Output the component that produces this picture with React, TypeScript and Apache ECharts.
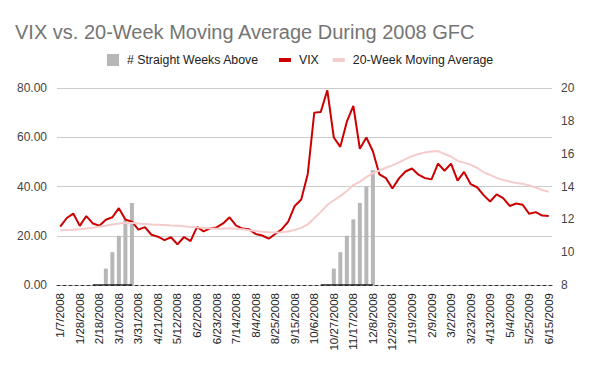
import React, { useEffect, useRef } from "react";
import * as echarts from "echarts";

const dates: string[] = [
  "1/7/2008", "1/14/2008", "1/21/2008", "1/28/2008", "2/4/2008", "2/11/2008", "2/18/2008", "2/25/2008",
  "3/3/2008", "3/10/2008", "3/17/2008", "3/24/2008", "3/31/2008", "4/7/2008", "4/14/2008", "4/21/2008",
  "4/28/2008", "5/5/2008", "5/12/2008", "5/19/2008", "5/26/2008", "6/2/2008", "6/9/2008", "6/16/2008",
  "6/23/2008", "6/30/2008", "7/7/2008", "7/14/2008", "7/21/2008", "7/28/2008", "8/4/2008", "8/11/2008",
  "8/18/2008", "8/25/2008", "9/1/2008", "9/8/2008", "9/15/2008", "9/22/2008", "9/29/2008", "10/6/2008",
  "10/13/2008", "10/20/2008", "10/27/2008", "11/3/2008", "11/10/2008", "11/17/2008", "11/24/2008", "12/1/2008",
  "12/8/2008", "12/15/2008", "12/22/2008", "12/29/2008", "1/5/2009", "1/12/2009", "1/19/2009", "1/26/2009",
  "2/2/2009", "2/9/2009", "2/16/2009", "2/23/2009", "3/2/2009", "3/9/2009", "3/16/2009", "3/23/2009",
  "3/30/2009", "4/6/2009", "4/13/2009", "4/20/2009", "4/27/2009", "5/4/2009", "5/11/2009", "5/18/2009",
  "5/25/2009", "6/1/2009", "6/8/2009", "6/15/2009",
];

const vix: number[] = [
  23.7, 27.2, 29.0, 24.0, 28.0, 25.0, 24.1, 26.5, 27.5, 31.2, 26.6, 25.7, 22.5, 23.5, 20.4, 19.6,
  18.2, 19.4, 16.5, 19.5, 17.8, 23.6, 21.8, 23.0, 23.4, 25.0, 27.5, 24.1, 22.9, 22.6, 20.7, 20.1,
  18.8, 20.7, 22.6, 25.7, 32.1, 34.7, 45.1, 70.0, 70.3, 79.1, 59.9, 56.1, 66.3, 72.7, 55.3, 59.9,
  54.3, 44.9, 43.4, 39.2, 43.3, 46.1, 47.3, 44.8, 43.4, 42.9, 49.3, 46.4, 49.3, 42.4, 45.9, 41.0,
  39.7, 36.5, 33.9, 36.8, 35.3, 32.1, 33.1, 32.6, 28.9, 29.6, 28.2, 28.0,
];

const movingAvg: number[] = [
  22.2, 22.3, 22.4, 22.6, 22.9, 23.2, 23.7, 24.1, 24.6, 25.0, 25.3, 25.2, 25.0, 24.8, 24.6, 24.5,
  24.4, 24.2, 24.1, 23.9, 23.6, 23.4, 23.1, 23.0, 22.8, 22.8, 23.0, 22.8, 22.6, 22.2, 21.9, 21.6,
  21.4, 21.3, 21.4, 21.7, 22.4, 23.2, 24.6, 27.1, 29.7, 32.5, 34.4, 36.1, 38.2, 40.6, 42.0, 43.8,
  45.4, 46.5, 47.6, 48.6, 49.8, 51.1, 52.3, 53.2, 53.8, 54.2, 54.4, 53.2, 52.2, 50.4, 49.7, 48.9,
  47.6, 45.8, 44.7, 43.5, 42.6, 42.0, 41.4, 41.1, 40.4, 39.6, 38.6, 37.8,
];

// "# Straight Weeks Above" bars, read on the right axis (index -> value)
const weeksAboveIdx: number[] = [7, 8, 9, 10, 11, 42, 43, 44, 45, 46, 47, 48];
const weeksAboveVal: number[] = [9, 10, 11, 12, 13, 9, 10, 11, 12, 13, 14, 15];
// zero-height bars drawn as a solid baseline
const zeroRunIdx: number[][] = [[5, 11], [40, 48]];

const leftTicks = { min: 0, max: 80, interval: 20 };
const rightTicks = { min: 8, max: 20, interval: 2 };

export default function App() {
  const ref = useRef<HTMLDivElement>(null);

  useEffect(() => {
    if (!ref.current) return;
    const chart = echarts.init(ref.current, undefined, { renderer: "svg" });

    const bars: (number | string)[] = dates.map(() => "-");
    weeksAboveIdx.forEach((idx, k) => {
      bars[idx] = weeksAboveVal[k];
    });
    const base: (number | string)[] = dates.map(() => "-");
    zeroRunIdx.forEach(([a, b]) => {
      for (let i = a; i <= b; i++) base[i] = rightTicks.min;
    });

    const font = "Arial, 'Liberation Sans', sans-serif";
    const legendText = { fontFamily: font, fontSize: 12.3, color: "#222", padding: [0, 0, 0, 3] };

    chart.setOption({
      animation: false,
      textStyle: { fontFamily: font },
      title: {
        text: "VIX vs. 20-Week Moving Average During 2008 GFC",
        left: 10,
        top: 17,
        textStyle: { fontFamily: font, fontSize: 20, fontWeight: "normal", color: "#757575" },
      },
      legend: [
        {
          left: 102,
          top: 49,
          itemWidth: 12,
          itemHeight: 12,
          textStyle: legendText,
          data: [{ name: "# Straight Weeks Above", icon: "rect" }],
        },
        {
          left: 274,
          top: 49,
          itemWidth: 12,
          itemHeight: 4,
          itemGap: 14,
          textStyle: legendText,
          data: [
            { name: "VIX", icon: "rect" },
            { name: "20-Week Moving Average", icon: "rect" },
          ],
        },
      ],
      grid: { left: 57, right: 48, top: 88, bottom: 86, containLabel: false },
      xAxis: {
        type: "category",
        data: dates,
        boundaryGap: true,
        axisLine: { show: true, lineStyle: { color: "#333", type: [3, 3], width: 1 } },
        axisTick: { show: false },
        axisLabel: {
          rotate: 90,
          interval: 2,
          fontFamily: font,
          fontSize: 11.5,
          color: "#222",
          margin: 8,
        },
      },
      yAxis: [
        {
          type: "value",
          position: "left",
          min: leftTicks.min,
          max: leftTicks.max,
          interval: leftTicks.interval,
          axisLine: { show: false },
          axisTick: { show: false },
          splitLine: { show: true, lineStyle: { color: "#cccccc", width: 1 } },
          axisLabel: {
            formatter: (v: number) => v.toFixed(2),
            fontFamily: font,
            fontSize: 12,
            color: "#444",
            margin: 10,
          },
        },
        {
          type: "value",
          position: "right",
          min: rightTicks.min,
          max: rightTicks.max,
          interval: rightTicks.interval,
          axisLine: { show: false },
          axisTick: { show: false },
          splitLine: { show: false },
          axisLabel: { fontFamily: font, fontSize: 12, color: "#444", margin: 9 },
        },
      ],
      series: [
        {
          name: "# Straight Weeks Above",
          type: "bar",
          yAxisIndex: 1,
          data: bars,
          barWidth: 4,
          itemStyle: { color: "#b7b7b7" },
        },
        {
          name: "baseline",
          type: "line",
          yAxisIndex: 1,
          data: base,
          symbol: "none",
          lineStyle: { color: "#222", width: 1.5 },
          silent: true,
        },
        {
          name: "VIX",
          type: "line",
          yAxisIndex: 0,
          data: vix,
          symbol: "none",
          lineStyle: { color: "#cc0000", width: 2 },
          itemStyle: { color: "#cc0000" },
        },
        {
          name: "20-Week Moving Average",
          type: "line",
          yAxisIndex: 0,
          data: movingAvg,
          symbol: "none",
          lineStyle: { color: "#f4cccc", width: 2 },
          itemStyle: { color: "#f4cccc" },
        },
      ],
    });

    return () => chart.dispose();
  }, []);

  return <div ref={ref} style={{ width: 600, height: 371, position: "absolute", left: 0, top: 0 }} />;
}
